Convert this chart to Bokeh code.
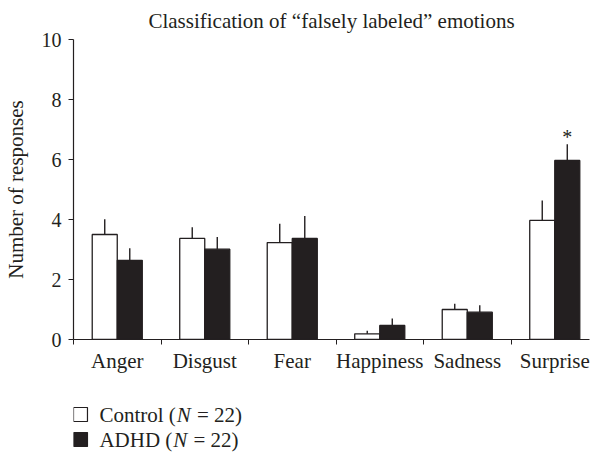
from bokeh.plotting import figure
from bokeh.layouts import column
from bokeh.models import FixedTicker, Range1d, ColumnDataSource
from bokeh.core.properties import value
from bokeh.embed import file_html
from bokeh.resources import INLINE

# ---- data ----
categories = ["Anger", "Disgust", "Fear", "Happiness", "Sadness", "Surprise"]
control_mean = [3.50, 3.37, 3.23, 0.19, 1.00, 3.97]
control_err = [0.51, 0.37, 0.63, 0.10, 0.19, 0.66]
adhd_mean = [2.64, 3.01, 3.37, 0.47, 0.91, 5.97]
adhd_err = [0.40, 0.41, 0.75, 0.23, 0.23, 0.54]
significance = ["", "", "", "", "", "*"]
y_ticks = [0, 2, 4, 6, 8, 10]
series_names = ["Control", "ADHD"]
series_n = [22, 22]

FONT = "Liberation Serif"
BAR_W = 0.286
DARK = "#231f20"

idx = list(range(len(categories)))
ctrl_x = [i + 0.5 - BAR_W / 2 for i in idx]
adhd_x = [i + 0.5 + BAR_W / 2 for i in idx]

src_c = ColumnDataSource(dict(x=ctrl_x, top=control_mean,
                              etop=[m + e for m, e in zip(control_mean, control_err)]))
src_a = ColumnDataSource(dict(x=adhd_x, top=adhd_mean,
                              etop=[m + e for m, e in zip(adhd_mean, adhd_err)],
                              sig=significance))

p = figure(frame_width=516, frame_height=300,
           x_range=Range1d(0, 5.897), y_range=Range1d(0, 10),
           output_backend="svg", toolbar_location=None,
           min_border_left=72, min_border_right=5, min_border_top=38,
           min_border_bottom=52,
           title="Classification of \u201cfalsely labeled\u201d emotions")

p.title.text_font = FONT
p.title.text_font_size = "21px"
p.title.text_font_style = "normal"
p.title.align = "center"
p.title.text_color = DARK
p.title.standoff = 13

p.xgrid.visible = False
p.ygrid.visible = False
p.outline_line_color = None

# bars
p.vbar(x="x", top="top", width=BAR_W, bottom=0, source=src_c,
       fill_color="white", line_color=DARK, line_width=1.3)
p.vbar(x="x", top="top", width=BAR_W, bottom=0, source=src_a,
       fill_color=DARK, line_color=DARK, line_width=1.3)

# error bars (upper only)
p.segment(x0="x", y0="top", x1="x", y1="etop", source=src_c, line_color=DARK, line_width=1.4)
p.segment(x0="x", y0="top", x1="x", y1="etop", source=src_a, line_color=DARK, line_width=1.4)

# significance marker
p.text(x="x", y="etop", text="sig", source=src_a, text_align="center",
       text_baseline="bottom", y_offset=4, text_font=value(FONT),
       text_font_size="20px", text_color=DARK)

# axes
xa = p.xaxis[0]
xa.ticker = FixedTicker(ticks=[i + 0.5 for i in idx], minor_ticks=list(range(len(categories))))
xa.major_label_overrides = {i + 0.5: c for i, c in zip(idx, categories)}
xa.major_tick_out = 0
xa.major_tick_in = 0
xa.minor_tick_out = 5
xa.minor_tick_in = 0
xa.minor_tick_line_color = DARK
xa.axis_line_color = DARK
xa.axis_line_width = 1.2
xa.major_label_standoff = 4
xa.major_label_text_font = FONT
xa.major_label_text_font_size = "21px"
xa.major_label_text_color = DARK

ya = p.yaxis[0]
ya.ticker = FixedTicker(ticks=y_ticks, minor_ticks=[])
ya.major_tick_out = 5
ya.major_tick_in = 0
ya.major_tick_line_color = DARK
ya.axis_line_color = DARK
ya.axis_line_width = 1.2
ya.major_label_standoff = 7
ya.major_label_text_font = FONT
ya.major_label_text_font_size = "20px"
ya.major_label_text_color = DARK
ya.axis_label = "Number of responses"
ya.axis_label_text_font = FONT
ya.axis_label_text_font_size = "21px"
ya.axis_label_text_font_style = "normal"
ya.axis_label_text_color = DARK
ya.axis_label_standoff = 11

# ---- legend strip below the chart (frame aligns with the chart's frame) ----
LEG_FS = 21
# approximate Times/Liberation Serif advance widths (per 1000 em)
W = {"C": 667, "o": 500, "n": 500, "t": 278, "r": 333, "l": 278, " ": 250, "(": 333,
     "A": 722, "D": 722, "H": 722, "N": 667}

def text_w(s):
    return sum(W.get(ch, 500) for ch in s) * LEG_FS / 1000.0

lg = figure(width=593, height=64, output_backend="svg", toolbar_location=None,
            x_range=Range1d(0, 516), y_range=Range1d(0, 64),
            min_border_left=0, min_border_right=0, min_border_top=0, min_border_bottom=0)
lg.axis.visible = False
lg.grid.visible = False
lg.outline_line_color = None

row_y = [41, 16]
sq_x = [7, 7]
txt_x0 = 26
pre = [f"{name} (" for name in series_names]
post = [f"= {n})" for n in series_n]
n_x = [txt_x0 + text_w(s) + 1 for s in pre]
post_x = [x + text_w("N") + text_w(" ") + 1 for x in n_x]

lg.rect(x=sq_x, y=row_y, width=14, height=14, fill_color=["white", DARK],
        line_color=DARK, line_width=1.2)
lg.text(x=[txt_x0] * 2, y=row_y, text=pre, text_baseline="middle", text_align="left",
        text_font=value(FONT), text_font_size=f"{LEG_FS}px", text_color=DARK)
lg.text(x=n_x, y=row_y, text=["N", "N"], text_baseline="middle", text_align="left",
        text_font=value(FONT), text_font_style="italic",
        text_font_size=f"{LEG_FS}px", text_color=DARK)
lg.text(x=post_x, y=row_y, text=post, text_baseline="middle", text_align="left",
        text_font=value(FONT), text_font_size=f"{LEG_FS}px", text_color=DARK)

layout = column(p, lg, spacing=0)
open("out.html", "w").write(file_html(layout, INLINE))
